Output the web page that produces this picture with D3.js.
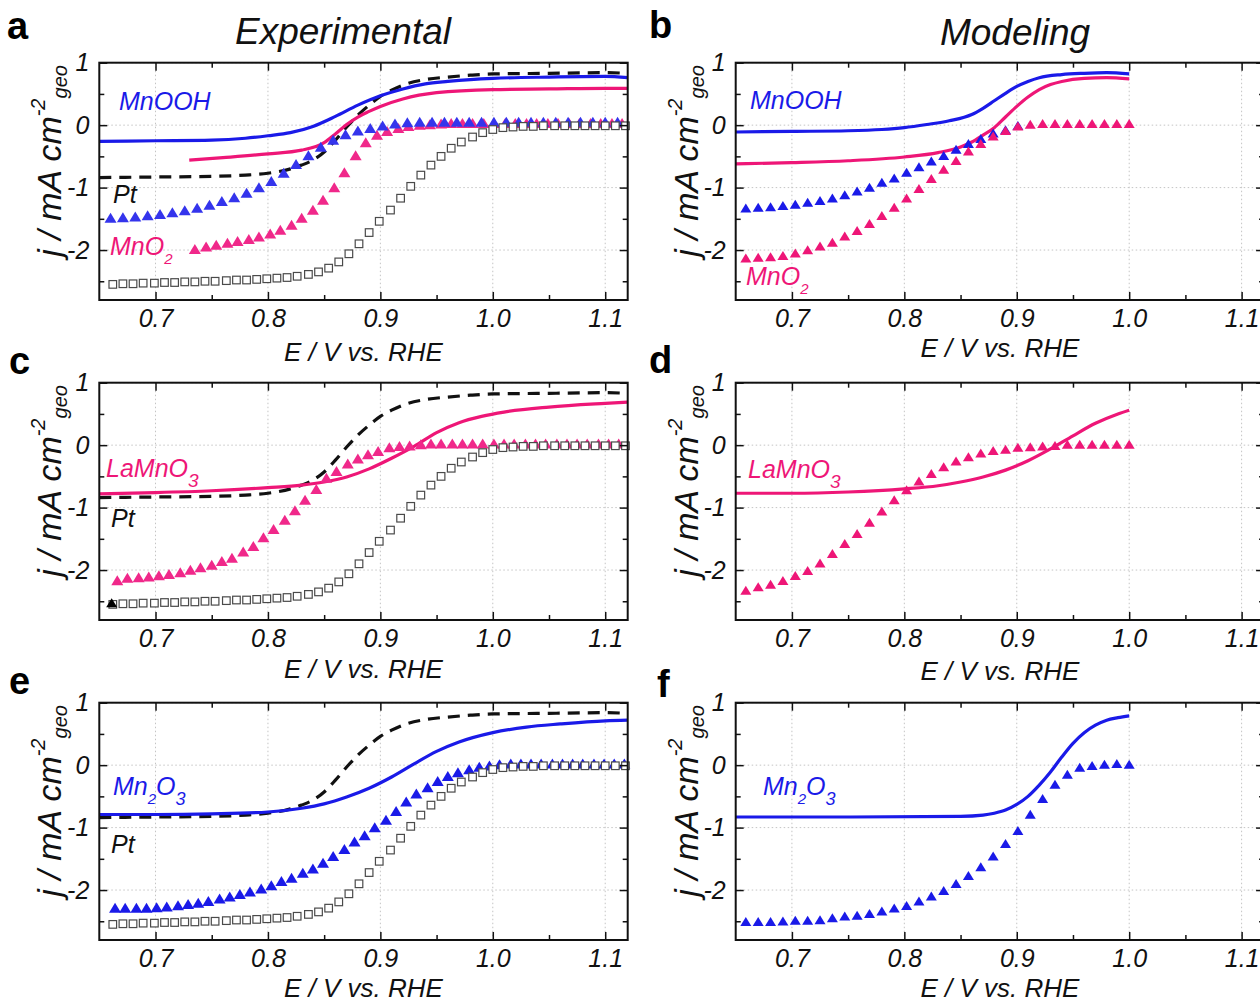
<!DOCTYPE html>
<html>
<head>
<meta charset="utf-8">
<script src="https://d3js.org/d3.v7.min.js"></script>
<style>
  body { margin: 0; background: #fff; }
  svg { display: block; font-family: "Liberation Sans", Arial, sans-serif; }
</style>
</head>
<body>
<div id="chart"></div>
<script>
// ---- data (E in V vs. RHE, j in mA cm-2) ----
const xTicks = [0.7, 0.8, 0.9, 1.0, 1.1];
const xMinorTicks = [0.75, 0.85, 0.95, 1.05];
const yTicks = [1, 0, -1, -2];
const yMinorTicks = [0.5, -0.5, -1.5, -2.5];

// Pt reference (dashed line) and open squares, same in a, c, e
const ptLineE = [0.65,0.70,0.75,0.78,0.80,0.82,0.83,0.84,0.85,0.86,0.87,0.88,0.89,0.90,0.91,0.92,0.94,0.96,0.98,1.00,1.05,1.10,1.12];
const ptLineJ = [-0.84,-0.83,-0.82,-0.80,-0.77,-0.70,-0.64,-0.56,-0.43,-0.24,-0.03,0.16,0.32,0.46,0.56,0.64,0.73,0.77,0.80,0.82,0.83,0.84,0.83];
const squareE = [0.662,0.671,0.680,0.689,0.699,0.708,0.717,0.726,0.735,0.744,0.753,0.763,0.772,0.781,0.790,0.799,0.808,0.817,0.826,0.836,
                 0.845,0.854,0.863,0.872,0.881,0.890,0.899,0.909,0.918,0.927,0.936,0.945,0.954,0.963,0.972,0.982,0.991,1.000,1.009,1.018,
                 1.027,1.036,1.045,1.055,1.064,1.073,1.082,1.091,1.100,1.109,1.118];
const squareJ = [-2.55,-2.54,-2.54,-2.53,-2.53,-2.52,-2.52,-2.51,-2.51,-2.50,-2.50,-2.49,-2.48,-2.48,-2.47,-2.46,-2.45,-2.44,-2.42,-2.39,
                 -2.35,-2.29,-2.19,-2.06,-1.90,-1.72,-1.54,-1.36,-1.17,-0.98,-0.80,-0.64,-0.50,-0.37,-0.27,-0.19,-0.12,-0.07,-0.04,-0.03,
                 -0.02,-0.02,-0.01,-0.01,-0.01,-0.01,-0.01,-0.01,-0.01,-0.01,-0.01];

// panel a
const mnoohExpLineE = [0.65,0.70,0.75,0.78,0.80,0.82,0.84,0.86,0.88,0.90,0.92,0.94,0.96,0.98,1.00,1.05,1.10,1.12];
const mnoohExpLineJ = [-0.26,-0.25,-0.24,-0.21,-0.17,-0.12,-0.02,0.14,0.32,0.47,0.58,0.66,0.70,0.73,0.75,0.77,0.78,0.76];
const mno2ExpLineE = [0.73,0.76,0.80,0.83,0.85,0.86,0.87,0.88,0.89,0.90,0.92,0.95,1.00,1.05,1.10,1.12];
const mno2ExpLineJ = [-0.56,-0.52,-0.46,-0.40,-0.28,-0.14,0.01,0.13,0.22,0.30,0.42,0.52,0.57,0.58,0.59,0.59];
const mnoohExpTriE = [0.660,0.671,0.682,0.693,0.704,0.715,0.726,0.737,0.748,0.759,0.770,0.781,0.792,0.803,0.814,0.825,0.836,0.847,0.858,0.869,
                      0.880,0.891,0.902,0.913,0.924,0.935,0.946,0.957,0.968,0.979,0.990,1.001,1.012,1.023,1.034,1.045,1.056,1.067,1.078,1.089,
                      1.100,1.111];
const mnoohExpTriJ = [-1.50,-1.49,-1.48,-1.46,-1.44,-1.41,-1.38,-1.34,-1.29,-1.23,-1.17,-1.10,-1.01,-0.91,-0.78,-0.64,-0.50,-0.36,-0.25,-0.16,
                      -0.10,-0.06,-0.02,0.01,0.03,0.04,0.04,0.04,0.04,0.04,0.04,0.04,0.04,0.04,0.04,0.04,0.04,0.04,0.04,0.04,
                      0.04,0.04];
const mno2ExpTriE = [0.735,0.745,0.754,0.764,0.773,0.783,0.792,0.802,0.811,0.821,0.830,0.840,0.849,0.859,0.868,0.878,0.887,0.897,0.906,0.916,
                     0.925,0.935,0.944,0.954,0.963,0.973,0.982,0.992,1.001,1.011,1.020,1.030,1.039,1.049,1.058,1.068,1.077,1.087,1.096,1.106,
                     1.115];
const mno2ExpTriJ = [-2.00,-1.96,-1.93,-1.90,-1.87,-1.84,-1.80,-1.75,-1.69,-1.61,-1.50,-1.37,-1.21,-1.01,-0.77,-0.50,-0.29,-0.17,-0.11,-0.06,
                     -0.03,-0.01,0.00,0.01,0.02,0.02,0.02,0.02,0.02,0.02,0.02,0.02,0.02,0.02,0.02,0.02,0.02,0.02,0.02,0.02,
                     0.02];

// modeling panels share one potential grid
const modelE = [0.659,0.670,0.681,0.692,0.703,0.714,0.725,0.736,0.747,0.758,0.769,0.780,0.791,0.802,0.813,0.824,
                0.835,0.846,0.857,0.868,0.879,0.890,0.901,0.912,0.923,0.934,0.945,0.956,0.967,0.978,0.989,1.000];

// panel b
const mnoohModLineE = [0.65,0.70,0.75,0.78,0.80,0.82,0.84,0.86,0.87,0.88,0.89,0.90,0.91,0.92,0.94,0.96,0.98,1.00];
const mnoohModLineJ = [-0.11,-0.10,-0.09,-0.07,-0.04,0.01,0.07,0.17,0.27,0.39,0.51,0.62,0.70,0.76,0.81,0.83,0.84,0.82];
const mno2ModLineE = [0.65,0.70,0.75,0.80,0.83,0.85,0.86,0.87,0.88,0.89,0.90,0.91,0.92,0.93,0.94,0.96,0.98,1.00];
const mno2ModLineJ = [-0.62,-0.60,-0.57,-0.51,-0.44,-0.35,-0.27,-0.16,-0.04,0.13,0.30,0.45,0.57,0.65,0.70,0.75,0.76,0.74];
const mnoohModTriJ = [-1.34,-1.33,-1.32,-1.30,-1.28,-1.25,-1.22,-1.18,-1.13,-1.07,-1.01,-0.93,-0.86,-0.77,-0.68,-0.59,
                      -0.50,-0.40,-0.31,-0.23,-0.14,-0.09,-0.02];
const mno2ModTriJ = [-2.14,-2.13,-2.12,-2.10,-2.06,-2.01,-1.95,-1.89,-1.79,-1.70,-1.59,-1.46,-1.33,-1.18,-1.03,-0.87,
                     -0.72,-0.58,-0.43,-0.31,-0.19,-0.10,-0.03,0.00,0.01,0.01,0.01,0.01,0.01,0.01,0.01,0.01];

// panel c
const lamno3ExpLineE = [0.65,0.70,0.75,0.80,0.83,0.85,0.87,0.89,0.91,0.93,0.95,0.97,0.99,1.01,1.05,1.10,1.12];
const lamno3ExpLineJ = [-0.78,-0.76,-0.73,-0.68,-0.64,-0.59,-0.51,-0.38,-0.21,-0.02,0.20,0.36,0.46,0.53,0.61,0.67,0.69];
const lamno3ExpTriE = [0.666,0.675,0.685,0.694,0.703,0.712,0.722,0.731,0.740,0.750,0.759,0.768,0.778,0.787,0.796,0.805,0.815,0.824,0.833,0.843,
                       0.852,0.861,0.871,0.880,0.889,0.898,0.908,0.917,0.926,0.936,0.945,0.954,0.964,0.973,0.982,0.991,1.001,1.010,1.019,1.029,
                       1.038,1.047,1.057,1.066,1.075,1.084,1.094,1.103,1.112];
const lamno3ExpTriJ = [-2.18,-2.14,-2.13,-2.12,-2.10,-2.08,-2.05,-2.01,-1.97,-1.93,-1.87,-1.82,-1.72,-1.63,-1.49,-1.36,-1.21,-1.06,-0.89,-0.72,
                       -0.54,-0.43,-0.31,-0.23,-0.16,-0.11,-0.05,-0.03,-0.02,0.00,0.01,0.01,0.01,0.01,0.01,0.01,0.01,0.01,0.01,0.01,
                       0.01,0.01,0.01,0.01,0.01,0.01,0.01,0.01,0.01];
const blackMarkerE = [0.661];
const blackMarkerJ = [-2.54];

// panel d
const lamno3ModLineE = [0.65,0.70,0.75,0.80,0.83,0.85,0.87,0.89,0.91,0.93,0.95,0.97,0.99,1.00];
const lamno3ModLineJ = [-0.77,-0.77,-0.75,-0.70,-0.65,-0.59,-0.51,-0.40,-0.25,-0.06,0.15,0.35,0.50,0.56];
const lamno3ModTriJ = [-2.34,-2.28,-2.24,-2.18,-2.10,-2.02,-1.90,-1.75,-1.59,-1.43,-1.25,-1.07,-0.89,-0.73,-0.59,-0.47,
                       -0.36,-0.27,-0.20,-0.14,-0.10,-0.08,-0.05,-0.04,-0.03,-0.02,0.00,0.00,0.00,0.00,0.00,0.00];

// panel e
const mn2o3ExpLineE = [0.65,0.70,0.75,0.80,0.83,0.85,0.87,0.89,0.91,0.93,0.95,0.97,1.00,1.03,1.06,1.10,1.12];
const mn2o3ExpLineJ = [-0.79,-0.79,-0.78,-0.75,-0.69,-0.62,-0.51,-0.37,-0.19,0.02,0.22,0.37,0.52,0.61,0.66,0.71,0.72];
const mn2o3ExpTriE = [0.664,0.673,0.683,0.692,0.701,0.710,0.720,0.729,0.738,0.747,0.757,0.766,0.775,0.784,0.794,0.803,0.812,0.821,0.831,0.840,
                      0.849,0.858,0.868,0.877,0.886,0.895,0.905,0.914,0.923,0.932,0.942,0.951,0.960,0.969,0.979,0.988,0.997,1.006,1.016,1.025,
                      1.034,1.043,1.053,1.062,1.071,1.080,1.090,1.099,1.108,1.117];
const mn2o3ExpTriJ = [-2.30,-2.30,-2.30,-2.30,-2.29,-2.28,-2.26,-2.24,-2.22,-2.19,-2.15,-2.12,-2.08,-2.04,-1.99,-1.94,-1.87,-1.82,-1.74,-1.67,
                      -1.58,-1.47,-1.36,-1.24,-1.14,-1.01,-0.89,-0.75,-0.60,-0.47,-0.37,-0.27,-0.19,-0.13,-0.08,-0.04,-0.02,0.00,0.01,0.01,
                      0.01,0.01,0.01,0.01,0.01,0.01,0.01,0.01,0.01,0.01];

// panel f
const mn2o3ModLineE = [0.65,0.75,0.85,0.87,0.88,0.89,0.90,0.91,0.92,0.93,0.94,0.95,0.96,0.97,0.98,0.99,1.00];
const mn2o3ModLineJ = [-0.83,-0.83,-0.82,-0.80,-0.77,-0.72,-0.63,-0.50,-0.32,-0.11,0.13,0.35,0.52,0.64,0.72,0.76,0.79];
const mn2o3ModTriJ = [-2.52,-2.52,-2.52,-2.51,-2.50,-2.50,-2.49,-2.46,-2.43,-2.42,-2.39,-2.35,-2.30,-2.26,-2.19,-2.11,
                      -2.02,-1.91,-1.78,-1.64,-1.47,-1.27,-1.06,-0.80,-0.55,-0.32,-0.16,-0.05,-0.02,0.00,0.01,0.00];

// ---- layout / style ----
const blue = "#1a1ae8";
const pink = "#ee1677", pinkTri = "#f0288a";
const sqColor = "#4a4a4a";

const svg = d3.select("#chart").append("svg")
    .attr("width", 1260)
    .attr("height", 1003);

const cols = [[99.3, 627.7], [735.7, 1264.1]];
const rows = [[62.7, 300], [382.7, 620], [702.7, 940]];

// triangle marker path with given width/height, centred
function triPath(w, h) {
    const p = d3.path();
    p.moveTo(0, -h * 0.6);
    p.lineTo(w / 2, h * 0.4);
    p.lineTo(-w / 2, h * 0.4);
    p.closePath();
    return p.toString();
}

// chemical label with subscripts: parts = [[text, isSub, size]]
function chemLabel(g, x, y, parts, color) {
    const t = g.append("text")
        .attr("x", x).attr("y", y)
        .attr("fill", color)
        .attr("font-style", "italic")
        .attr("font-size", 25);
    let shift = 0;
    parts.forEach(([txt, sub, size]) => {
        const target = sub ? (size > 16 ? 10 : 9) : 0;
        t.append("tspan")
            .attr("dy", target - shift)
            .attr("font-size", sub ? size : 25)
            .text(txt);
        shift = target;
    });
}

function drawPanel(p) {
    const [x0, x1] = cols[p.col];
    const [y0, y1] = rows[p.row];
    const x = d3.scaleLinear().domain([0.65, 1.12]).range([x0, x1]);
    const y = d3.scaleLinear().domain([-2.8, 1]).range([y1, y0]);
    const g = svg.append("g");

    //dotted grid at major ticks
    g.selectAll(".vgrid").data(xTicks).join("line")
        .attr("x1", d => x(d)).attr("x2", d => x(d))
        .attr("y1", y0).attr("y2", y1)
        .attr("stroke", "#c4c4c4").attr("stroke-width", 1)
        .attr("stroke-dasharray", "1.5,2.5");
    g.selectAll(".hgrid").data(yTicks).join("line")
        .attr("x1", x0).attr("x2", x1)
        .attr("y1", d => y(d)).attr("y2", d => y(d))
        .attr("stroke", "#c4c4c4").attr("stroke-width", 1)
        .attr("stroke-dasharray", "1.5,2.5");

    const clipId = "clip-" + p.letter;
    svg.append("clipPath").attr("id", clipId)
        .append("rect").attr("x", x0).attr("y", y0)
        .attr("width", x1 - x0).attr("height", y1 - y0);

    const line = d3.line().curve(d3.curveMonotoneX)
        .x(d => x(d[0])).y(d => y(d[1]));

    p.series.forEach(s => {
        const data = d3.zip(s.e, s.j);
        if (s.kind === "line") {
            g.append("path")
                .datum(data)
                .attr("clip-path", "url(#" + clipId + ")")
                .attr("fill", "none")
                .attr("stroke", s.color)
                .attr("stroke-width", 3.2)
                .attr("stroke-dasharray", s.dash || null)
                .attr("d", line);
        } else if (s.kind === "tri") {
            g.append("g").selectAll("path").data(data).join("path")
                .attr("transform", d => "translate(" + x(d[0]) + "," + y(d[1]) + ")")
                .attr("d", triPath(s.w, s.h))
                .attr("fill", s.color);
        } else {
            g.append("g").selectAll("rect").data(data).join("rect")
                .attr("x", d => x(d[0]) - 3.8).attr("y", d => y(d[1]) - 3.8)
                .attr("width", 7.6).attr("height", 7.6)
                .attr("fill", "#fff")
                .attr("stroke", s.color).attr("stroke-width", 1.2);
        }
    });

    //inward ticks on all four sides
    const addAxis = (axis, tx, ty, labels) => {
        const a = g.append("g")
            .attr("transform", "translate(" + tx + "," + ty + ")")
            .call(axis);
        a.select(".domain").remove();
        a.selectAll("line").attr("stroke", "#111").attr("stroke-width", 1.5);
        if (labels) {
            a.selectAll("text")
                .attr("fill", "#111")
                .style("font-size", "25px")
                .style("font-style", "italic")
                .style("font-family", "'Liberation Sans', Arial, sans-serif");
        } else {
            a.selectAll("text").remove();
        }
    };
    addAxis(d3.axisBottom(x).tickValues(xTicks).tickSize(-8).tickPadding(9).tickFormat(d3.format(".1f")), 0, y1, true);
    addAxis(d3.axisBottom(x).tickValues(xMinorTicks).tickSize(-5), 0, y1, false);
    addAxis(d3.axisTop(x).tickValues(xTicks).tickSize(-8), 0, y0, false);
    addAxis(d3.axisTop(x).tickValues(xMinorTicks).tickSize(-5), 0, y0, false);
    addAxis(d3.axisLeft(y).tickValues(yTicks).tickSize(-8).tickPadding(10).tickFormat(d => String(d)), x0, 0, true);
    addAxis(d3.axisLeft(y).tickValues(yMinorTicks).tickSize(-5), x0, 0, false);
    addAxis(d3.axisRight(y).tickValues(yTicks).tickSize(-8), x1, 0, false);
    addAxis(d3.axisRight(y).tickValues(yMinorTicks).tickSize(-5), x1, 0, false);

    g.append("rect")
        .attr("x", x0).attr("y", y0)
        .attr("width", x1 - x0).attr("height", y1 - y0)
        .attr("fill", "none").attr("stroke", "#111").attr("stroke-width", 2);

    // y axis title j / mA cm^-2 geo
    const yl = g.append("text")
        .attr("transform", "translate(" + (x0 - 38) + "," + (y0 + 194) + ") rotate(-90)")
        .attr("font-size", 34)
        .attr("font-style", "italic")
        .attr("fill", "#111");
    yl.append("tspan").text("j / mA cm");
    yl.append("tspan").attr("font-size", 20).attr("dy", -16).text("-2");
    yl.append("tspan").attr("font-size", 20).attr("dy", 22).text("geo");

    // x axis title
    g.append("text")
        .attr("x", (x0 + x1) / 2).attr("y", p.xLabelY)
        .attr("text-anchor", "middle")
        .attr("font-size", 26).attr("font-style", "italic")
        .attr("fill", "#111")
        .text("E / V vs. RHE");

    // panel letter
    svg.append("text")
        .attr("x", p.letterPos[0]).attr("y", p.letterPos[1])
        .attr("font-size", 38).attr("font-weight", "bold")
        .attr("fill", "#000")
        .text(p.letter);

    p.labels.forEach(l => chemLabel(g, l.x, l.y, l.parts, l.color));
}

const ptSquares = { kind: "sq", e: squareE, j: squareJ, color: sqColor };
const ptDashed = { kind: "line", e: ptLineE, j: ptLineJ, color: "#111", dash: "12,8" };

const panels = [
    { letter: "a", col: 0, row: 0, xLabelY: 361, letterPos: [7, 39],
      series: [
        ptDashed,
        { kind: "line", e: mno2ExpLineE, j: mno2ExpLineJ, color: pink },
        { kind: "line", e: mnoohExpLineE, j: mnoohExpLineJ, color: blue },
        { kind: "tri", e: mno2ExpTriE, j: mno2ExpTriJ, color: pinkTri, w: 12, h: 10 },
        { kind: "tri", e: mnoohExpTriE, j: mnoohExpTriJ, color: "#3434ec", w: 12, h: 10 },
        ptSquares
      ],
      labels: [
        { x: 119, y: 110, color: blue, parts: [["MnOOH"]] },
        { x: 113, y: 203, color: "#111", parts: [["Pt"]] },
        { x: 110, y: 255, color: pink, parts: [["MnO"], ["2", true, 15]] }
      ] },
    { letter: "b", col: 1, row: 0, xLabelY: 357, letterPos: [649, 38],
      series: [
        { kind: "line", e: mno2ModLineE, j: mno2ModLineJ, color: pink },
        { kind: "line", e: mnoohModLineE, j: mnoohModLineJ, color: blue },
        { kind: "tri", e: modelE, j: mnoohModTriJ, color: blue, w: 11, h: 9 },
        { kind: "tri", e: modelE, j: mno2ModTriJ, color: pink, w: 11, h: 9 }
      ],
      labels: [
        { x: 750, y: 109, color: blue, parts: [["MnOOH"]] },
        { x: 746, y: 285, color: pink, parts: [["MnO"], ["2", true, 15]] }
      ] },
    { letter: "c", col: 0, row: 1, xLabelY: 678, letterPos: [9, 374],
      series: [
        ptDashed,
        { kind: "line", e: lamno3ExpLineE, j: lamno3ExpLineJ, color: pink },
        { kind: "tri", e: lamno3ExpTriE, j: lamno3ExpTriJ, color: pinkTri, w: 12, h: 10 },
        ptSquares,
        { kind: "tri", e: blackMarkerE, j: blackMarkerJ, color: "#000", w: 11, h: 9 }
      ],
      labels: [
        { x: 106, y: 477, color: pink, parts: [["LaMnO"], ["3", true, 19]] },
        { x: 111, y: 527, color: "#111", parts: [["Pt"]] }
      ] },
    { letter: "d", col: 1, row: 1, xLabelY: 680, letterPos: [649, 373],
      series: [
        { kind: "line", e: lamno3ModLineE, j: lamno3ModLineJ, color: pink },
        { kind: "tri", e: modelE, j: lamno3ModTriJ, color: pink, w: 11, h: 9 }
      ],
      labels: [
        { x: 748, y: 478, color: pink, parts: [["LaMnO"], ["3", true, 19]] }
      ] },
    { letter: "e", col: 0, row: 2, xLabelY: 997, letterPos: [9, 694],
      series: [
        ptDashed,
        { kind: "line", e: mn2o3ExpLineE, j: mn2o3ExpLineJ, color: blue },
        { kind: "tri", e: mn2o3ExpTriE, j: mn2o3ExpTriJ, color: blue, w: 12, h: 10 },
        ptSquares
      ],
      labels: [
        { x: 113, y: 795, color: blue, parts: [["Mn"], ["2", true, 15], ["O"], ["3", true, 18]] },
        { x: 111, y: 853, color: "#111", parts: [["Pt"]] }
      ] },
    { letter: "f", col: 1, row: 2, xLabelY: 997, letterPos: [657, 697],
      series: [
        { kind: "line", e: mn2o3ModLineE, j: mn2o3ModLineJ, color: blue },
        { kind: "tri", e: modelE, j: mn2o3ModTriJ, color: blue, w: 11, h: 9 }
      ],
      labels: [
        { x: 763, y: 795, color: blue, parts: [["Mn"], ["2", true, 15], ["O"], ["3", true, 18]] }
      ] }
];

panels.forEach(drawPanel);

// column titles
svg.append("text").attr("x", 343).attr("y", 44)
    .attr("text-anchor", "middle").attr("font-size", 37).attr("font-style", "italic")
    .attr("fill", "#111").text("Experimental");
svg.append("text").attr("x", 1015).attr("y", 45)
    .attr("text-anchor", "middle").attr("font-size", 37).attr("font-style", "italic")
    .attr("fill", "#111").text("Modeling");
</script>
</body>
</html>
